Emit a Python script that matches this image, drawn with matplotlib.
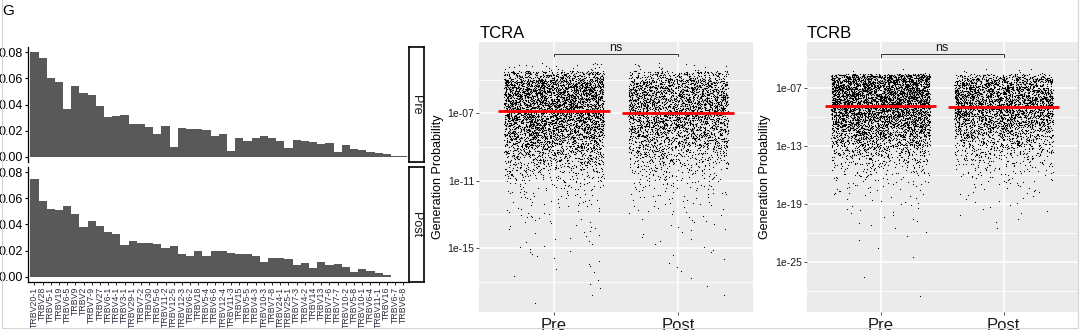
import numpy as np
import matplotlib
matplotlib.use("Agg")
import matplotlib.pyplot as plt
from matplotlib.ticker import NullLocator

plt.rcParams['font.family'] = ['Liberation Sans', 'DejaVu Sans']

W, H = 1080, 331

# ---------------- data ----------------
genes = ["TRBV20-1", "TRBV28", "TRBV5-1", "TRBV19", "TRBV6-5", "TRBV9", "TRBV2", "TRBV7-9",
         "TRBV27", "TRBV6-1", "TRBV4-1", "TRBV3-1", "TRBV29-1", "TRBV7-2", "TRBV30", "TRBV5-6",
         "TRBV11-2", "TRBV12-5", "TRBV12-3", "TRBV6-2", "TRBV18", "TRBV5-4", "TRBV6-6", "TRBV12-4",
         "TRBV11-3", "TRBV15", "TRBV5-5", "TRBV4-3", "TRBV10-3", "TRBV7-8", "TRBV24-1", "TRBV25-1",
         "TRBV7-3", "TRBV4-2", "TRBV14", "TRBV13", "TRBV7-6", "TRBV7-7", "TRBV10-2", "TRBV5-8",
         "TRBV10-1", "TRBV6-4", "TRBV11-1", "TRBV16", "TRBV6-7", "TRBV6-8"]

pre_usage = [0.0800, 0.0757, 0.0601, 0.0569, 0.0366, 0.0540, 0.0487, 0.0476, 0.0388, 0.0302,
             0.0312, 0.0317, 0.0249, 0.0249, 0.0225, 0.0175, 0.0238, 0.0075, 0.0221, 0.0213,
             0.0209, 0.0204, 0.0157, 0.0171, 0.0045, 0.0142, 0.0117, 0.0145, 0.0159, 0.0142,
             0.0117, 0.0066, 0.0130, 0.0120, 0.0112, 0.0094, 0.0106, 0.0036, 0.0089, 0.0063,
             0.0051, 0.0038, 0.0028, 0.0023, 0.0005, 0.0003]

post_usage = [0.0750, 0.0582, 0.0522, 0.0512, 0.0544, 0.0477, 0.0379, 0.0424, 0.0386, 0.0339,
              0.0329, 0.0243, 0.0271, 0.0261, 0.0260, 0.0250, 0.0222, 0.0236, 0.0172, 0.0160,
              0.0195, 0.0160, 0.0199, 0.0195, 0.0179, 0.0171, 0.0171, 0.0160, 0.0113, 0.0145,
              0.0140, 0.0134, 0.0093, 0.0109, 0.0067, 0.0114, 0.0090, 0.0094, 0.0076, 0.0037,
              0.0056, 0.0047, 0.0030, 0.0012, 0.0000, 0.0000]

groups = ["Pre", "Post"]

# Generation probability: number of points per band of log10(Pgen)
tcra_edges = [-4.0, -4.5, -5.0, -5.5, -6.0, -6.5, -7.0, -7.5, -8.0, -8.5, -9.0, -9.5, -10.0,
              -10.5, -11.0, -11.5, -12.0, -12.5, -13.0, -13.5, -14.0, -14.5, -15.0, -15.5,
              -16.0, -16.5, -17.0, -17.5, -18.0, -18.5]
tcra_pre_counts = [25, 300, 520, 560, 540, 520, 520, 470, 390, 300, 220, 160, 110, 70,
                   35, 25, 18, 12, 10, 7, 6, 5, 5, 3, 3, 2, 2, 1, 1]
tcra_post_counts = [15, 200, 360, 400, 400, 380, 370, 340, 280, 220, 160, 110, 70, 45,
                    30, 20, 14, 10, 7, 5, 4, 3, 3, 2, 2, 1, 1, 1, 0]
tcra_medians = [-6.86, -7.00]

tcrb_edges = [-5.0, -5.6, -6.0, -7.0, -8.0, -9.0, -10.0, -11.0, -12.0, -13.0, -14.0, -15.0,
              -16.0, -17.0, -18.0, -19.0, -20.0, -21.0, -22.0, -23.0, -24.0, -25.0, -26.0,
              -27.0, -28.0, -29.0]
tcrb_pre_counts = [3, 300, 760, 800, 800, 720, 600, 450, 330, 200, 110, 60, 30, 18, 10, 7,
                   5, 3, 2, 1, 1, 0, 1, 0, 1]
tcrb_post_counts = [8, 110, 480, 580, 580, 530, 440, 320, 210, 130, 75, 40, 22, 12, 7, 5,
                    3, 1, 0, 0, 0, 0, 0, 0, 0]
tcrb_medians = [-8.89, -8.96]

# ---------------- helpers ----------------
def px(l, t, r, b):
    return [l / W, 1 - b / H, (r - l) / W, (b - t) / H]


def jitter_hash(a):
    # deterministic scrambling used only for the horizontal jitter / ordering
    return (np.sin(a) * 43758.5453) % 1.0


def spread(center, edges, counts):
    xs, ys = [], []
    for j, c in enumerate(counts):
        if c == 0:
            continue
        hi, lo = edges[j], edges[j + 1]
        k = np.arange(c)
        order = np.argsort(jitter_hash(k * 3.17 + j * 91.7 + center * 5.3))
        u = (order + 0.5) / c
        v = jitter_hash(k * 12.9898 + j * 78.233 + center * 37.719)
        ys.append(10 ** (hi + (lo - hi) * u))
        xs.append(center + (2 * v - 1) * 0.4)
    return np.concatenate(xs), np.concatenate(ys)


fig = plt.figure(figsize=(W / 100, H / 100), dpi=100)

# ---------------- bar chart (faceted) ----------------
bar_color = '#595959'
x = np.arange(len(genes))
for i, (vals, lab, t, b) in enumerate([(pre_usage, "Pre", 47, 162), (post_usage, "Post", 167, 282)]):
    ax = fig.add_axes(px(28.3, t, 409.3, b))
    ax.bar(x, vals, width=1.0, color=bar_color, edgecolor='none')
    ax.set_xlim(-0.745, len(genes) - 1 + 0.745)
    ax.set_ylim(-0.004, 0.084)
    ax.set_yticks([0.0, 0.02, 0.04, 0.06, 0.08])
    ax.set_yticklabels(["0.00", "0.02", "0.04", "0.06", "0.08"])
    ax.tick_params(axis='y', labelsize=9, colors='black', length=2.5, width=0.8, pad=1.5)
    for s in ['top', 'right']:
        ax.spines[s].set_visible(False)
    ax.spines['left'].set_linewidth(0.9)
    if i == 0:
        ax.spines['bottom'].set_visible(False)
        ax.set_xticks([])
    else:
        ax.spines['bottom'].set_linewidth(0.9)
        ax.set_xticks(x)
        ax.set_xticklabels(genes, rotation=90, fontsize=6.3, color='#2e3040')
        ax.tick_params(axis='x', length=2, width=0.6, pad=1.5)
    # strip
    sax = fig.add_axes(px(409.3, t, 423.5, b))
    sax.set_xticks([]); sax.set_yticks([])
    for s in sax.spines.values():
        s.set_linewidth(1.2)
        s.set_color('black')
    sax.text(0.5, 0.5, lab, rotation=-90, ha='center', va='center', fontsize=9,
             transform=sax.transAxes, color='#1a1a1a')

fig.text(2 / W, 1 - 15 / H, "G", fontsize=11, ha='left', va='baseline')

# ---------------- scatter panels ----------------
def scatter_panel(rect, title, edges, counts_list, medians, ylims, majors, minors, labels,
                  bracket_y, bracket_tick, ns_y, title_x, ylab_x):
    ax = fig.add_axes(rect)
    ax.set_facecolor('#EBEBEB')
    ax.set_yscale('log')
    ax.set_xlim(0.4, 2.6)
    ax.set_ylim(10 ** ylims[0], 10 ** ylims[1])
    for v in minors:
        ax.axhline(10 ** v, color='white', lw=0.6, zorder=0.5)
    for v in majors:
        ax.axhline(10 ** v, color='white', lw=1.1, zorder=0.6)
    for xc in [1, 2]:
        ax.axvline(xc, color='white', lw=1.1, zorder=0.6)
    for gi, counts in enumerate(counts_list):
        xs, ys = spread(gi + 1, edges, counts)
        ax.scatter(xs, ys, s=0.75, c='black', linewidths=0, zorder=2)
    for gi, m in enumerate(medians):
        ax.hlines(10 ** m, gi + 1 - 0.45, gi + 1 + 0.45, color='#FF0000', lw=2.0, zorder=3)
    # significance bracket
    ax.plot([1, 1, 2, 2], [10 ** bracket_tick, 10 ** bracket_y, 10 ** bracket_y, 10 ** bracket_tick],
            color='#333333', lw=0.7, zorder=3)
    ax.text(1.5, 10 ** ns_y, "ns", ha='center', va='center', fontsize=9, color='#1a1a1a')
    ax.set_yticks([10 ** v for v in majors])
    ax.set_yticklabels(labels)
    ax.yaxis.set_minor_locator(NullLocator())
    ax.set_xticks([1, 2])
    ax.set_xticklabels(groups)
    ax.tick_params(axis='y', labelsize=7.5, colors='#333333', length=2.5, width=0.6, pad=1)
    ax.tick_params(axis='x', labelsize=12, colors='#333333', length=2.5, width=0.6, pad=2)
    for lab in ax.get_yticklabels() + ax.get_xticklabels():
        lab.set_color('#1a1a1a')
    for s in ax.spines.values():
        s.set_visible(False)
    fig.text(title_x / W, 1 - 37.5 / H, title, fontsize=12, ha='left', va='baseline')
    fig.text(ylab_x / W, 1 - 177 / H, "Generation Probability", rotation=90, fontsize=9,
             ha='center', va='center')
    return ax

scatter_panel(px(479.3, 42.3, 752.7, 311.7), "TCRA", tcra_edges,
              [tcra_pre_counts, tcra_post_counts], tcra_medians, (-18.77, -2.79),
              [-7, -11, -15], [-5, -9, -13, -17], ["1e-07", "1e-11", "1e-15"],
              -3.48, -3.62, -3.1, 479.3, 438)

scatter_panel(px(806.7, 41.7, 1077.5, 311.7), "TCRB", tcrb_edges,
              [tcrb_pre_counts, tcrb_post_counts], tcrb_medians, (-30.09, -2.26),
              [-7, -13, -19, -25], [-4, -10, -16, -22, -28], ["1e-07", "1e-13", "1e-19", "1e-25"],
              -3.56, -3.80, -2.9, 806.7, 765)

# light frame around the figure
frame_col = '#D4D4D4'
fig.add_artist(plt.Line2D([2 / W, 2 / W], [1 - 328 / H, 1], color=frame_col, lw=0.8))
fig.add_artist(plt.Line2D([2 / W, 1077 / W], [1 - 328 / H, 1 - 328 / H], color=frame_col, lw=0.8))
fig.add_artist(plt.Line2D([1077.5 / W, 1077.5 / W], [1 - 328 / H, 1], color=frame_col, lw=0.8))

fig.savefig("out.png", dpi=100)
